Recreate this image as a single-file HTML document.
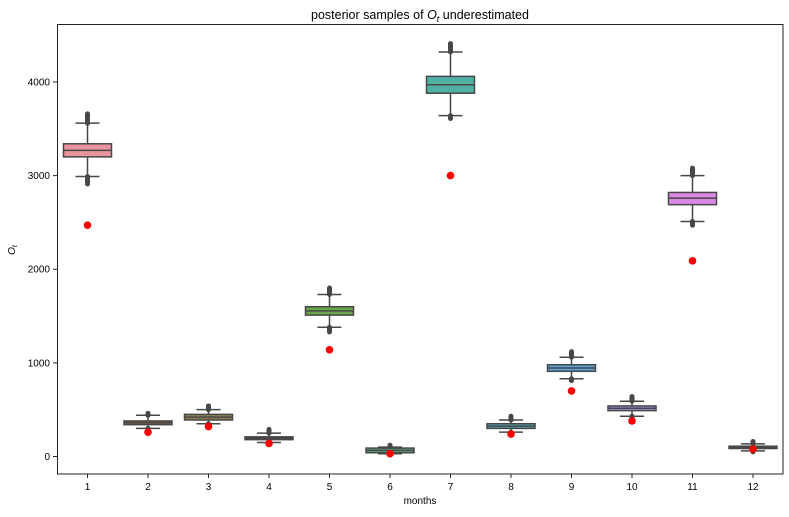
<!DOCTYPE html>
<html><head><meta charset="utf-8"><style>
body{margin:0;background:#fff;font-family:"Liberation Sans",sans-serif}
</style></head><body>
<svg id="c" width="789" height="512" xmlns="http://www.w3.org/2000/svg" font-family="Liberation Sans, sans-serif">
<rect x="57.5" y="24.5" width="725.5" height="449.5" fill="#fff" stroke="#222" stroke-width="1"/>
<text x="420" y="19" text-anchor="middle" font-size="12.5">posterior samples of <tspan font-style="italic">O</tspan><tspan font-style="italic" font-size="9" dy="3">t</tspan><tspan dy="-3"> underestimated</tspan></text>
<text x="420" y="504" text-anchor="middle" font-size="10">months</text>
<text transform="translate(15,250) rotate(-90)" text-anchor="middle" font-size="10" font-style="italic">O<tspan font-size="7" dy="2">t</tspan></text>
<g id="g"></g>
</svg>
<script>
const months=["1","2","3","4","5","6","7","8","9","10","11","12"];
const q1=[3200,340,390,180,1510,40,3880,300,910,490,2690,85];
const q3=[3340,380,450,210,1600,90,4060,350,980,540,2820,110];
const med=[3270,360,420,195,1555,65,3970,325,945,515,2760,97];
const whLo=[2990,300,350,150,1380,30,3640,260,830,430,2510,60];
const whHi=[3560,440,500,250,1730,100,4320,390,1060,590,3000,135];
const outLo=[2910,290,340,140,1330,20,3610,250,810,420,2470,50];
const outHi=[3660,460,540,290,1800,120,4410,430,1120,640,3080,160];
const observed=[2470,260,320,140,1140,30,3000,240,700,380,2090,80];
const yTicks=[0,1000,2000,3000,4000];
const colors=["#e8949e","#8a7150","#8c8250","#6f8a4c","#69a84a","#5aa37a","#4fb0a4","#51a8b5","#5ea2d8","#9a8fd6","#dc88e6","#e48ab8"];
const x=i=>87.5+i*60.5, y=v=>456.5-v*0.09363;
const g=document.getElementById('g'),NS="http://www.w3.org/2000/svg";
function mk(t,a,p){const e=document.createElementNS(NS,t);for(const k in a)e.setAttribute(k,a[k]);(p||g).appendChild(e);return e;}
yTicks.forEach(v=>{
 const l=mk('line',{x1:53,x2:57.5,y1:y(v),y2:y(v),stroke:'#222'});
 
 
 const t=mk('text',{x:50,y:y(v)+3.5,'text-anchor':'end','font-size':10});t.textContent=v;
 
 
});
months.forEach((m,i)=>{
 const cx=x(i),w=24,st='#474747';
 const l=mk('line',{x1:cx,x2:cx,y1:474,y2:478,stroke:'#222'});
 
 
 const t=mk('text',{x:cx,y:490,'text-anchor':'middle','font-size':10});t.textContent=m;
 
 
 const grp=mk('g',{});
 
 
 mk('line',{x1:cx,x2:cx,y1:y(outHi[i]),y2:y(whHi[i]),stroke:st,'stroke-width':5,'stroke-linecap':'round'},grp);
 mk('line',{x1:cx,x2:cx,y1:y(whLo[i]),y2:y(outLo[i]),stroke:st,'stroke-width':5,'stroke-linecap':'round'},grp);
 mk('line',{x1:cx,x2:cx,y1:y(whHi[i]),y2:y(whLo[i]),stroke:st,'stroke-width':1.5},grp);
 mk('line',{x1:cx-12,x2:cx+12,y1:y(whHi[i]),y2:y(whHi[i]),stroke:st,'stroke-width':1.5},grp);
 mk('line',{x1:cx-12,x2:cx+12,y1:y(whLo[i]),y2:y(whLo[i]),stroke:st,'stroke-width':1.5},grp);
 mk('rect',{x:cx-w,y:y(q3[i]),width:2*w,height:Math.max(1,y(q1[i])-y(q3[i])),fill:colors[i],stroke:st,'stroke-width':1.5},grp);
 mk('line',{x1:cx-w,x2:cx+w,y1:y(med[i]),y2:y(med[i]),stroke:st,'stroke-width':1.5},grp);
 const d=mk('circle',{cx:cx,cy:y(observed[i]),r:3.8,fill:'#ff0000'});
 
 
});
</script>
</body></html>
